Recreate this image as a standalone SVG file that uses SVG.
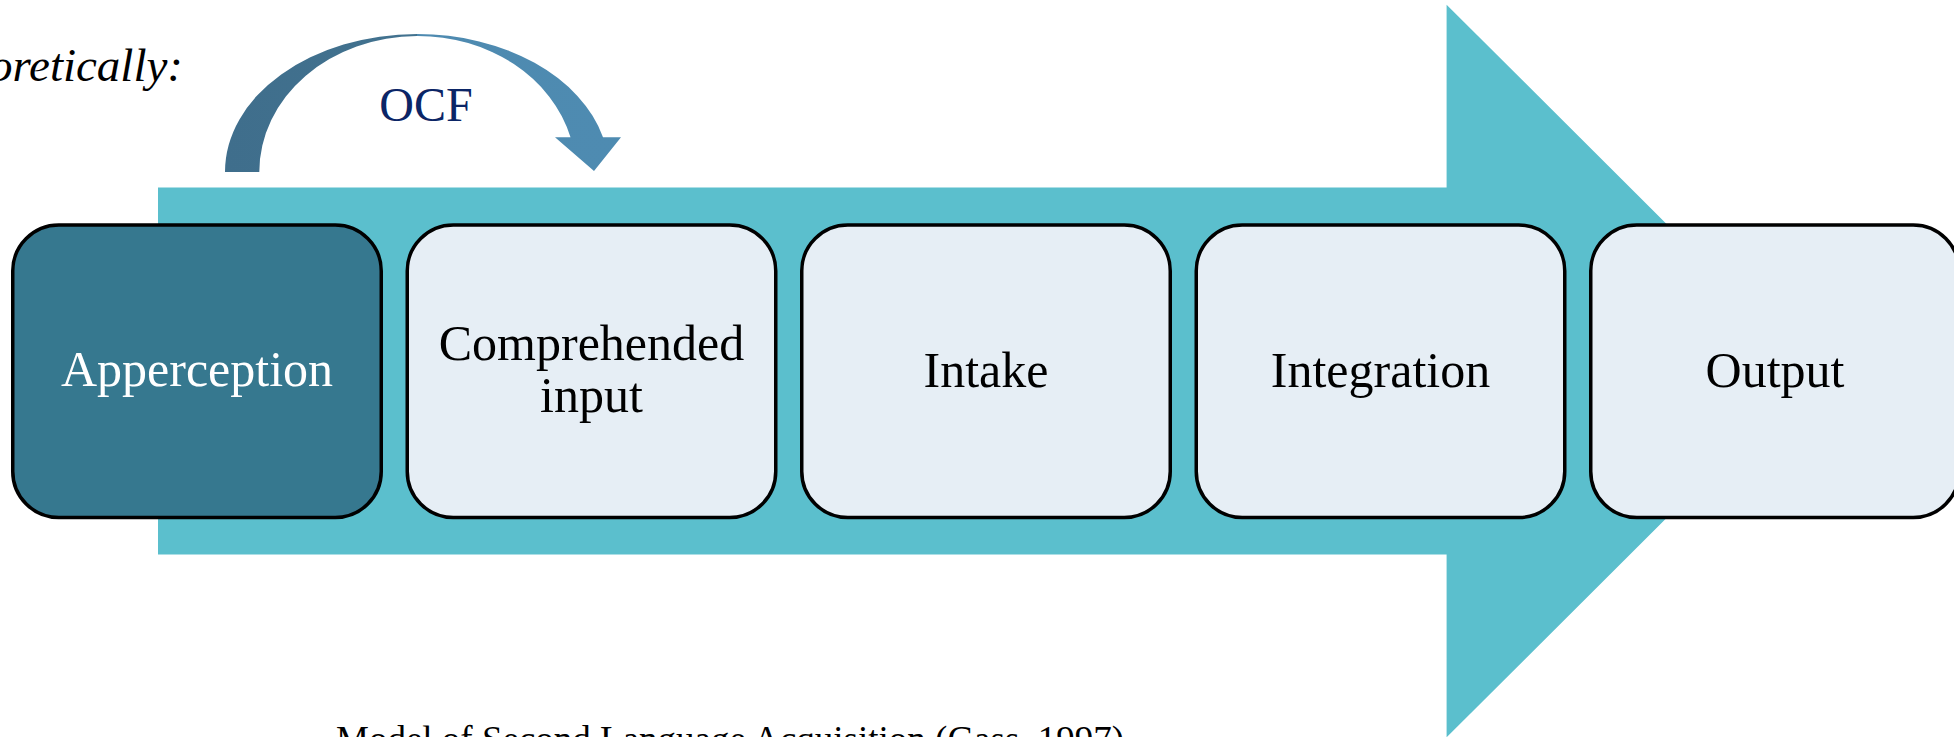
<svg xmlns="http://www.w3.org/2000/svg" width="1954" height="737" viewBox="0 0 1954 737">
  <style>
    .box { stroke: #000000; stroke-width: 3.5; }
    .light { fill: #E6EEF5; }
    .dark { fill: #36788F; }
    .lbl { font-family: "Liberation Serif", "Times New Roman", serif; font-size: 50px; text-anchor: middle; fill: #000000; }
    .lblw { fill: #FFFFFF; }
  </style>
  <defs>
    <linearGradient id="ocfGrad" gradientUnits="userSpaceOnUse" x1="225" y1="0" x2="621" y2="0">
      <stop offset="0" stop-color="#3F6E8C"/>
      <stop offset="0.485" stop-color="#42728F"/>
      <stop offset="0.485" stop-color="#4E8AB0"/>
      <stop offset="1" stop-color="#4E8BB1"/>
    </linearGradient>
  </defs>
  <rect width="1954" height="737" fill="#FFFFFF"/>

  <text x="183" y="81" font-family="'Liberation Serif', 'Times New Roman', serif" font-style="italic" font-size="47" text-anchor="end" fill="#000000">Theoretically:</text>

  <g id="connectors">
    <polygon id="big-arrow" points="158,187.5 1446.6,187.5 1446.6,4.7 1814,371 1446.6,737.3 1446.6,554.5 158,554.5" fill="#5BBFCD"/>
    <path id="ocf-arrow" d="M 225 172 A 192 138 0 0 1 417 34 A 192 138 0 0 1 603 137.3 L 621 137.3 L 594 171 L 555 137.3 L 570.5 137.3 A 158 136 0 0 0 417 36 A 158 136 0 0 0 259.3 172 Z" fill="url(#ocfGrad)"/>
    <text x="426" y="120.7" font-family="'Liberation Serif', 'Times New Roman', serif" font-size="48" text-anchor="middle" fill="#0B2566">OCF</text>
  </g>

  <g id="node-apperception">
    <rect class="box dark" x="12.75" y="225" width="368.5" height="292.5" rx="46" ry="46"/>
    <text class="lbl lblw" x="197" y="386">Apperception</text>
  </g>
  <g id="node-comprehended-input">
    <rect class="box light" x="407.25" y="225" width="368.5" height="292.5" rx="46" ry="46"/>
    <text class="lbl" x="591.5" y="360">Comprehended</text>
    <text class="lbl" x="591.5" y="412">input</text>
  </g>
  <g id="node-intake">
    <rect class="box light" x="801.75" y="225" width="368.5" height="292.5" rx="46" ry="46"/>
    <text class="lbl" x="986" y="387">Intake</text>
  </g>
  <g id="node-integration">
    <rect class="box light" x="1196.25" y="225" width="368.5" height="292.5" rx="46" ry="46"/>
    <text class="lbl" x="1380.5" y="387">Integration</text>
  </g>
  <g id="node-output">
    <rect class="box light" x="1590.75" y="225" width="368.5" height="292.5" rx="46" ry="46"/>
    <text class="lbl" x="1775" y="387">Output</text>
  </g>

  <text x="336" y="752" font-family="'Liberation Serif', 'Times New Roman', serif" font-size="37" fill="#000000">Model of Second Language Acquisition (Gass, 1997)</text>
</svg>
